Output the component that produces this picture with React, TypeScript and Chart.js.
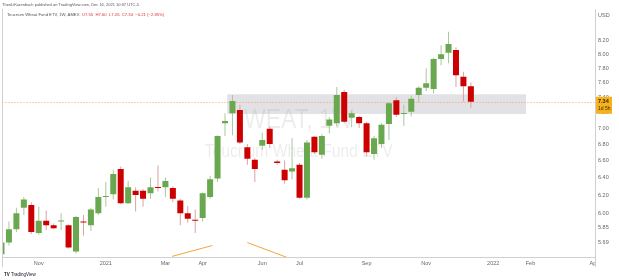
import React, { useEffect, useRef } from 'react';
import { Chart, registerables } from 'chart.js';
Chart.register(...registerables);

const FONT = '"Liberation Sans", Arial, sans-serif';

// Weekly OHLC, WEAT (week index 0 = Sep 28 2020)
const opens = [5.57, 5.69, 5.83, 6.06, 6.09, 5.79, 5.92, 5.87, 5.91, 5.87, 5.60, 5.91, 5.87, 6.00, 6.18, 6.21,
  6.50, 6.11, 6.25, 6.25, 6.22, 6.29, 6.29, 6.28, 6.14, 6.00, 5.93, 5.95, 6.18, 6.39, 7.06, 7.19,
  7.23, 6.76, 6.61, 6.78, 6.99, 6.59, 6.49, 6.47, 6.55, 6.17, 6.89, 6.67, 7.03, 7.06, 7.47, 7.13,
  7.14, 7.06, 6.68, 6.80, 7.05, 7.36, 7.18, 7.21, 7.43, 7.53, 7.51, 7.93, 8.02, 8.06, 7.68, 7.55];
const highs = [5.73, 5.91, 6.06, 6.18, 6.12, 6.07, 6.03, 5.89, 6.00, 5.88, 5.97, 5.98, 6.06, 6.28, 6.35, 6.49,
  6.53, 6.36, 6.29, 6.27, 6.40, 6.54, 6.40, 6.30, 6.16, 6.08, 6.04, 6.23, 6.42, 6.91, 7.19, 7.43,
  7.30, 6.80, 6.63, 6.94, 7.02, 6.61, 6.60, 6.87, 6.57, 6.85, 6.90, 6.92, 7.14, 7.54, 7.50, 7.22,
  7.16, 7.08, 6.90, 7.06, 7.34, 7.40, 7.30, 7.42, 7.55, 7.80, 7.95, 8.13, 8.33, 8.10, 7.75, 7.60];
const lows = [5.55, 5.66, 5.80, 5.98, 5.78, 5.77, 5.82, 5.83, 5.82, 5.63, 5.58, 5.76, 5.81, 5.98, 6.07, 6.15,
  6.10, 6.10, 6.02, 6.07, 6.16, 6.24, 6.18, 6.12, 5.87, 5.90, 5.79, 5.91, 6.16, 6.35, 6.90, 6.91,
  6.80, 6.55, 6.35, 6.73, 6.75, 6.55, 6.33, 6.38, 6.16, 6.15, 6.68, 6.62, 6.93, 7.02, 7.06, 7.01,
  7.00, 6.65, 6.61, 6.75, 6.85, 7.14, 7.03, 7.15, 7.33, 7.48, 7.45, 7.84, 7.87, 7.54, 7.34, 7.26];
const closes = [5.69, 5.83, 6.00, 6.15, 5.80, 5.92, 5.87, 5.84, 5.92, 5.64, 5.96, 5.90, 6.04, 6.18, 6.19, 6.44,
  6.11, 6.29, 6.20, 6.16, 6.29, 6.28, 6.36, 6.16, 6.00, 5.94, 5.92, 6.22, 6.38, 6.90, 7.09, 7.35,
  6.82, 6.62, 6.50, 6.85, 6.80, 6.57, 6.37, 6.51, 6.17, 6.82, 6.70, 6.90, 7.11, 7.43, 7.08, 7.19,
  7.06, 6.70, 6.87, 7.04, 7.32, 7.17, 7.19, 7.38, 7.53, 7.59, 7.93, 8.00, 8.15, 7.70, 7.55, 7.34];

const yTicks = [5.69, 5.85, 6.0, 6.2, 6.4, 6.6, 6.8, 7.0, 7.2, 7.4, 7.6, 7.8, 8.0, 8.2];
const xTickWeeks = [5, 14, 22, 27, 35, 40, 49, 57, 66, 71, 79.5];
const xTickLabels = ['Nov', '2021', 'Mar', 'Apr', 'Jun', 'Jul', 'Sep', 'Nov', '2022', 'Feb', 'Apr'];

const zoneWeeks = [30.3, 70.4];
const zonePrices = [7.18, 7.44];
const trendAWeeks = [22.9, 28.3];
const trendAPrices = [5.55, 5.66];
const trendBWeeks = [33.0, 38.3];
const trendBPrices = [5.69, 5.54];

const lastPrice = 7.34;
const countdown = '1d 5h';

const GREEN = '#6aa84f';
const RED = '#cc0000';
const GREEN_WICK = '#a9c79d';
const RED_WICK = '#d9a3a3';
const FRAME = '#d0d0d0';

const decor = {
  id: 'decor',
  beforeDatasetsDraw(chart: any) {
    const { ctx, chartArea: a, scales } = chart;
    const x = scales.x, y = scales.y;
    ctx.save();
    ctx.beginPath();
    ctx.rect(a.left, a.top, a.right - a.left, a.bottom - a.top);
    ctx.clip();
    const cx = (a.left + a.right) / 2;
    ctx.fillStyle = 'rgba(0,0,0,0.075)';
    ctx.textAlign = 'center';
    ctx.textBaseline = 'alphabetic';
    ctx.save();
    ctx.translate(cx, 128);
    ctx.scale(0.82, 1);
    ctx.font = `28px ${FONT}`;
    ctx.fillText('WEAT, 1W', 0, 0);
    ctx.restore();
    ctx.save();
    ctx.translate(cx, 157);
    ctx.scale(0.87, 1);
    ctx.font = `18px ${FONT}`;
    ctx.fillText('Teucrium Wheat Fund ETV', 0, 0);
    ctx.restore();
    // zone
    const zx1 = x.getPixelForValue(zoneWeeks[0]);
    const zx2 = x.getPixelForValue(zoneWeeks[1]);
    const zy1 = y.getPixelForValue(zonePrices[1]);
    const zy2 = y.getPixelForValue(zonePrices[0]);
    ctx.fillStyle = 'rgba(160,160,172,0.3)';
    ctx.fillRect(zx1, zy1, zx2 - zx1, zy2 - zy1);
    // price line
    const py = Math.round(y.getPixelForValue(lastPrice)) + 0.5;
    ctx.strokeStyle = 'rgba(240,150,60,0.85)';
    ctx.lineWidth = 1;
    ctx.setLineDash([1, 2]);
    ctx.beginPath();
    ctx.moveTo(a.left, py);
    ctx.lineTo(a.right, py);
    ctx.stroke();
    ctx.restore();
  },
  afterDraw(chart: any) {
    const { ctx, chartArea: a, scales } = chart;
    const y = scales.y;
    const W = chart.width, H = chart.height;
    ctx.save();
    // cover clipped x label
    ctx.fillStyle = '#fff';
    ctx.fillRect(a.right + 0.5, a.bottom + 1, W - a.right, H - a.bottom);
    // frame
    ctx.strokeStyle = FRAME;
    ctx.lineWidth = 1;
    ctx.beginPath();
    ctx.moveTo(a.right + 0.5, 9);
    ctx.lineTo(a.right + 0.5, 267);
    ctx.moveTo(2, a.bottom + 0.5);
    ctx.lineTo(a.right + 0.5, a.bottom + 0.5);
    ctx.moveTo(2.5, 9);
    ctx.lineTo(2.5, 267);
    ctx.stroke();
    // USD
    ctx.fillStyle = '#666';
    ctx.font = `5.5px ${FONT}`;
    ctx.textAlign = 'left';
    ctx.textBaseline = 'middle';
    ctx.fillText('USD', a.right + 3, 15);
    // price label
    const py = y.getPixelForValue(lastPrice);
    ctx.fillStyle = '#f6b21a';
    ctx.fillRect(a.right + 1, py - 5, 16, 17);
    ctx.fillStyle = '#3a2a10';
    ctx.font = `bold 5.5px ${FONT}`;
    ctx.fillText(lastPrice.toFixed(2), a.right + 3, py - 0.5);
    ctx.font = `5px ${FONT}`;
    ctx.fillText(countdown, a.right + 3, py + 7);
    // header
    ctx.textBaseline = 'middle';
    ctx.fillStyle = '#555';
    ctx.font = `4px ${FONT}`;
    ctx.fillText('ThenLiKarenbach published on TradingView.com, Dec 16, 2021 10:07 UTC-5', 2, 5);
    ctx.font = `4.2px ${FONT}`;
    const t1 = 'Teucrium Wheat Fund ETV, 1W, AMEX  ';
    ctx.fillText(t1, 7, 14.5);
    const w1 = ctx.measureText(t1).width;
    ctx.fillStyle = '#e03030';
    ctx.fillText('O7.55  H7.60  L7.26  C7.34  \u22120.21 (\u22122.85%)', 7 + w1, 14.5);
    // logo
    ctx.fillStyle = '#131722';
    ctx.font = `bold 4.5px ${FONT}`;
    ctx.fillText('TV', 4, 275);
    ctx.font = `4.5px ${FONT}`;
    ctx.fillText('TradingView', 11, 275);
    ctx.restore();
  },
};

export default function App() {
  const ref = useRef<HTMLCanvasElement>(null);
  useEffect(() => {
    const canvas = ref.current!;
    const idx = opens.map((_, i) => i);
    const up = idx.map((i) => closes[i] >= opens[i]);
    const chart = new Chart(canvas, {
      type: 'bar',
      data: {
        datasets: [
          {
            type: 'bar',
            data: idx.map((i) => ({ x: i, y: [lows[i], highs[i]] })) as any,
            backgroundColor: up.map((u) => (u ? GREEN_WICK : RED_WICK)),
            barThickness: 1,
            grouped: false,
            inflateAmount: 0,
            borderWidth: 0,
            order: 2,
          } as any,
          {
            type: 'bar',
            data: idx.map((i) => ({ x: i, y: [opens[i], closes[i]] })) as any,
            backgroundColor: up.map((u) => (u ? GREEN : RED)),
            barThickness: 6,
            grouped: false,
            minBarLength: 1,
            inflateAmount: 0,
            borderWidth: 0,
            order: 1,
          } as any,
          {
            type: 'line',
            data: trendAWeeks.map((w, i) => ({ x: w, y: trendAPrices[i] })),
            borderColor: '#f4a43c',
            borderWidth: 1,
            pointRadius: 0,
            order: 0,
          } as any,
          {
            type: 'line',
            data: trendBWeeks.map((w, i) => ({ x: w, y: trendBPrices[i] })),
            borderColor: '#f4a43c',
            borderWidth: 1,
            pointRadius: 0,
            order: 0,
          } as any,
        ],
      },
      options: {
        animation: false,
        responsive: false,
        devicePixelRatio: 1,
        layout: { padding: { left: 2.5, top: 10, right: 0, bottom: 0 } },
        plugins: { legend: { display: false }, tooltip: { enabled: false } },
        scales: {
          x: {
            type: 'linear',
            min: 0.134,
            max: 79.66,
            offset: false,
            grid: { display: false, drawTicks: false },
            border: { display: false },
            afterBuildTicks: (s: any) => {
              s.ticks = xTickWeeks.map((v) => ({ value: v }));
            },
            afterFit: (s: any) => {
              s.height = 23;
            },
            ticks: {
              autoSkip: false,
              maxRotation: 0,
              padding: 3,
              color: '#666',
              font: { size: 5.5, family: FONT },
              callback: (_v: any, i: number) => xTickLabels[i],
            },
          },
          y: {
            type: 'logarithmic',
            position: 'right',
            min: 5.5436,
            max: 8.665,
            grid: { display: false, drawTicks: false },
            border: { display: false },
            afterBuildTicks: (s: any) => {
              s.ticks = yTicks.map((v) => ({ value: v }));
            },
            afterFit: (s: any) => {
              s.width = 24;
            },
            ticks: {
              autoSkip: false,
              padding: 3,
              color: '#666',
              font: { size: 5.5, family: FONT },
              callback: (v: any) => Number(v).toFixed(2),
            },
          },
        },
      } as any,
      plugins: [decor],
    });
    return () => chart.destroy();
  }, []);
  return (
    <div style={{ position: 'fixed', left: 0, top: 0, width: 619, height: 280, background: '#fff' }}>
      <canvas ref={ref} width={619} height={280} style={{ width: 619, height: 280, display: 'block' }} />
    </div>
  );
}
